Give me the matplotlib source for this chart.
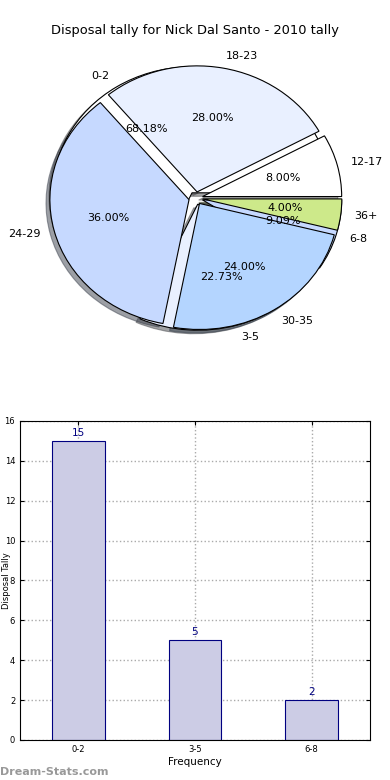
import numpy as np
import matplotlib
matplotlib.use("Agg")
import matplotlib.pyplot as plt

# donnees du camembert des disposals
disp_labels = ['12-17', '18-23', '24-29', '30-35', '36+']
disp_values = [8.0, 28.0, 36.0, 24.0, 4.0]

# donnees de frequence (camembert dessous + barres)
freq_labels = ['0-2', '3-5', '6-8']
freq_values = [15, 5, 2]

pie_colors = ['#ffffff', '#e9f0ff', '#c6d9ff', '#b4d5ff', '#cde98a']

fig = plt.figure(figsize=(3.9, 7.8), dpi=100)

# --- camembert(s) ---
ax1 = fig.add_axes([0.056, 0.544, 0.892, 0.404])
ax1.pie(freq_values, labels=freq_labels, colors=pie_colors[:3],
        explode=[0.05] * len(freq_values), autopct='%.2f%%', shadow=True,
        wedgeprops={'edgecolor': 'black', 'linewidth': 0.8},
        textprops={'fontsize': 8})
ax1.pie(disp_values, labels=disp_labels, colors=pie_colors,
        explode=[0.05] * len(disp_values), autopct='%.2f%%', shadow=True,
        wedgeprops={'edgecolor': 'black', 'linewidth': 0.8},
        textprops={'fontsize': 8})
ax1.set_aspect('auto')
ax1.set_xlim(-1.25, 1.25)
ax1.set_ylim(-1.25, 1.25)
fig.text(0.5, 0.961, 'Disposal tally for Nick Dal Santo - 2010 tally',
         ha='center', va='center', fontsize=9.4)

# --- barres ---
ax2 = fig.add_axes([0.0513, 0.0513, 0.897, 0.409])
x = np.arange(len(freq_values))
bars = ax2.bar(x, freq_values, width=0.45, color='#ccccE5',
               edgecolor='navy', linewidth=0.8, zorder=2)
for b, v in zip(bars, freq_values):
    ax2.text(b.get_x() + b.get_width() / 2, v + 0.15, str(v),
             ha='center', va='bottom', color='navy', fontsize=7.5)
ax2.set_xlim(-0.5, 2.5)
ax2.set_ylim(0, 16)
ax2.set_xticks(x)
ax2.set_xticklabels(freq_labels)
ax2.set_yticks(range(0, 17, 2))
ax2.tick_params(labelsize=6, direction='in', top=True, right=True, length=3)
ax2.grid(True, linestyle=':', color='#aaaaaa', linewidth=1, zorder=0)
ax2.set_axisbelow(True)
ax2.set_xlabel('Frequency', fontsize=7.5, labelpad=2)
ax2.set_ylabel('Disposal Tally', fontsize=6, va='center')
ax2.yaxis.set_label_coords(-0.04, 0.5)

fig.text(0.0, 0.004, 'Dream-Stats.com', color='#999999', fontsize=8,
         fontweight='semibold', ha='left', va='bottom')

plt.savefig('out.png', dpi=100)
